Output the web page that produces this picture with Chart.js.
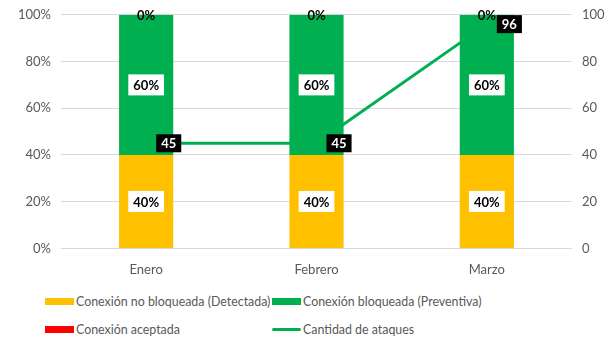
<!DOCTYPE html>
<html>
<head>
<meta charset="utf-8">
<script src="https://cdn.jsdelivr.net/npm/chart.js@4/dist/chart.umd.min.js"></script>
<style>
  html, body { margin: 0; padding: 0; background: #fff; overflow: hidden; }
  #wrap { position: relative; width: 609px; height: 340px; font-family: Lato, "Open Sans", sans-serif; overflow: hidden; }
  #box { position: absolute; left: 0; top: -3px; width: 609px; height: 287px; }
  .legend { position: absolute; font-size: 12.4px; color: #595959; white-space: nowrap; line-height: 16px; }
  .legend span.sw { display: inline-block; vertical-align: middle; margin-right: 2px; margin-top: -2px; }
</style>
</head>
<body>
<div id="wrap">
  <div id="box"><canvas id="c"></canvas></div>
  <div id="legend"></div>
</div>
<script>
// Months shown on the category axis
const categories = ['Enero', 'Febrero', 'Marzo'];
// Share of connections per month (percent)
const detectada = [40, 40, 40];
const preventiva = [60, 60, 60];
const aceptada = [0, 0, 0];
// Attack count per month (right axis)
const ataques = [45, 45, 96];
// Axis ticks
const leftTicks = [0, 20, 40, 60, 80, 100];
const rightTicks = [0, 20, 40, 60, 80, 100];

const YELLOW = '#FFC000', GREEN = '#00B050', RED = '#FF0000';
const FONT = 'Lato, "Open Sans", sans-serif';

// In-chart value labels: white boxes on bar segments, black boxes on the line
const valueLabels = {
  id: 'valueLabels',
  afterDatasetsDraw(chart) {
    const ctx = chart.ctx;
    ctx.save();
    ctx.font = 'bold 13px ' + FONT;
    ctx.textAlign = 'center';
    ctx.textBaseline = 'middle';
    chart.data.datasets.forEach((ds, di) => {
      const meta = chart.getDatasetMeta(di);
      meta.data.forEach((el, i) => {
        const v = ds.data[i];
        if (ds.type === 'line') {
          const txt = String(v);
          const w = ctx.measureText(txt).width + 10, h = 18;
          const x = el.x + 10, y = el.y - h / 2;
          ctx.fillStyle = '#000';
          ctx.fillRect(x, y, w, h);
          ctx.fillStyle = '#fff';
          ctx.fillText(txt, x + w / 2, el.y + 1);
        } else {
          const txt = v + '%';
          if (v === 0) {
            ctx.fillStyle = '#000';
            ctx.fillText(txt, el.x, el.y + 1);
          } else {
            const cy = (el.y + el.base) / 2;
            const w = ctx.measureText(txt).width + 10, h = 21;
            ctx.fillStyle = '#fff';
            ctx.fillRect(el.x - w / 2, cy - h / 2, w, h);
            ctx.fillStyle = '#000';
            ctx.fillText(txt, el.x, cy + 1);
          }
        }
      });
    });
    ctx.restore();
  }
};

const barOpts = { type: 'bar', yAxisID: 'y', order: 1, categoryPercentage: 1, barPercentage: 0.318, borderWidth: 0 };

new Chart(document.getElementById('c'), {
  data: {
    labels: categories,
    datasets: [
      Object.assign({ label: 'Conexión no bloqueada (Detectada)', data: detectada, backgroundColor: YELLOW }, barOpts),
      Object.assign({ label: 'Conexión bloqueada (Preventiva)', data: preventiva, backgroundColor: GREEN }, barOpts),
      Object.assign({ label: 'Conexión aceptada', data: aceptada, backgroundColor: RED }, barOpts),
      { type: 'line', label: 'Cantidad de ataques', data: ataques, yAxisID: 'y1', order: 0,
        borderColor: GREEN, borderWidth: 3, pointRadius: 0, tension: 0 }
    ]
  },
  options: {
    responsive: true,
    maintainAspectRatio: false,
    animation: false,
    layout: { padding: { top: 2, left: 0, right: 0, bottom: 0 } },
    plugins: { legend: { display: false }, tooltip: { enabled: false } },
    scales: {
      x: {
        stacked: true,
        grid: { display: false },
        border: { display: false },
        ticks: { color: '#595959', font: { family: FONT, size: 13 }, padding: 6 }
      },
      y: {
        stacked: true, min: 0, max: 100,
        afterBuildTicks(axis) { axis.ticks = leftTicks.map(v => ({ value: v })); },
        afterFit(axis) { axis.width = 61; },
        grid: { color: '#D9D9D9', drawTicks: false },
        border: { display: false },
        ticks: { color: '#595959', font: { family: FONT, size: 13 }, padding: 10, callback: v => v + '%' }
      },
      y1: {
        position: 'right', min: 0, max: 100,
        afterBuildTicks(axis) { axis.ticks = rightTicks.map(v => ({ value: v })); },
        afterFit(axis) { axis.width = 37; },
        grid: { display: false, drawTicks: false },
        border: { display: false },
        ticks: { color: '#595959', font: { family: FONT, size: 13 }, padding: 10 }
      }
    }
  },
  plugins: [valueLabels]
});

// Two-column legend under the plot
const legendItems = [
  { text: 'Conexión no bloqueada (Detectada)', color: YELLOW, kind: 'box', x: 45, y: 294 },
  { text: 'Conexión bloqueada (Preventiva)', color: GREEN, kind: 'box', x: 272, y: 294 },
  { text: 'Conexión aceptada', color: RED, kind: 'box', x: 45, y: 322 },
  { text: 'Cantidad de ataques', color: GREEN, kind: 'line', x: 272, y: 322 }
];
const lg = document.getElementById('legend');
legendItems.forEach(it => {
  const d = document.createElement('div');
  d.className = 'legend';
  d.style.left = it.x + 'px';
  d.style.top = it.y + 'px';
  const sw = document.createElement('span');
  sw.className = 'sw';
  sw.style.width = '29px';
  sw.style.height = it.kind === 'box' ? '7px' : '3px';
  sw.style.background = it.color;
  if (it.kind === 'line') sw.style.borderRadius = '2px';
  d.appendChild(sw);
  d.appendChild(document.createTextNode(it.text));
  lg.appendChild(d);
});
</script>
</body>
</html>
